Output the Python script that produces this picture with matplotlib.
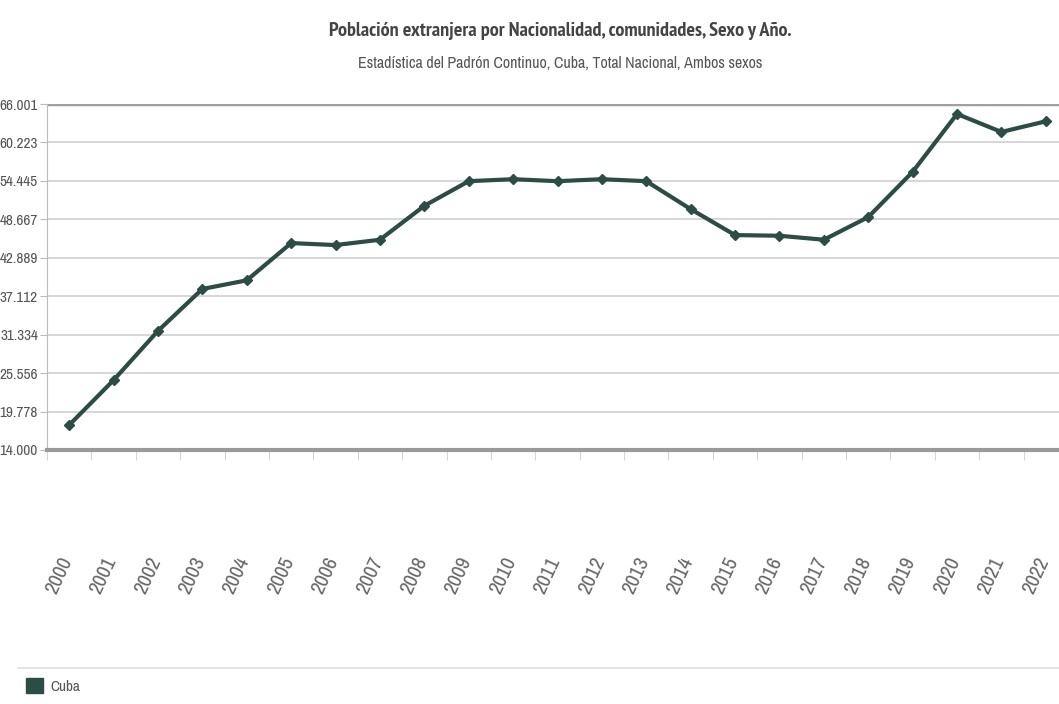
import matplotlib
matplotlib.use("Agg")
import matplotlib.pyplot as plt
import matplotlib.transforms as mtransforms
from matplotlib.patches import Patch

years = [str(y) for y in range(2000, 2023)]
cuba = [17750, 24500, 31900, 38200, 39500, 45100, 44800, 45600, 50700, 54400,
        54700, 54400, 54700, 54400, 50200, 46300, 46200, 45600, 49000, 55800,
        64500, 61800, 63400]
yticks = [14000, 19778, 25556, 31334, 37112, 42889, 48667, 54445, 60223, 66001]
ytick_labels = ["14.000", "19.778", "25.556", "31.334", "37.112", "42.889",
                "48.667", "54.445", "60.223", "66.001"]

plt.rcParams["font.family"] = ["Archivo Narrow", "DejaVu Sans"]

line_col = "#2c4c46"
grey = "#555555"

fig = plt.figure(figsize=(10.59, 7.04), dpi=100)
# plot area runs past the right edge, like the cropped original
ax = fig.add_axes([47 / 1059, 1 - 450 / 704, 1021 / 1059, 346 / 704])

x = list(range(len(years)))
ax.plot(x, cuba, color=line_col, lw=3, marker="D", ms=5, mec=line_col, mfc=line_col, zorder=3)

ax.set_xlim(-0.5, len(years) - 0.5)
ax.set_ylim(14000, 66001)
ax.set_yticks(yticks)
ax.set_yticklabels(ytick_labels, fontsize=11, color=grey)
ax.set_xticks(x)
ax.set_xticklabels(years, rotation=65, ha="center", fontsize=15, color="#666666")
ax.set_xticks([i - 0.5 for i in range(len(years) + 1)], minor=True)
ax.tick_params(axis="x", which="major", length=0, pad=75)
ax.tick_params(axis="x", which="minor", length=7, color="#cccccc", direction="out")
ax.tick_params(axis="y", length=5, color="#bbbbbb", pad=1.5)

# nudge year labels left (after tick_params, which resets transforms)
shift = mtransforms.ScaledTranslation(-10 / 100, 0, fig.dpi_scale_trans)
for lab in ax.get_xticklabels():
    lab.set_transform(lab.get_transform() + shift)

ax.grid(axis="y", color="#d0d0d0", lw=1.2)
ax.axhline(66001, color="#a0a0a0", lw=2.5, zorder=2)
for s in ["top", "right"]:
    ax.spines[s].set_visible(False)
ax.spines["left"].set_color("#bbbbbb")
ax.spines["bottom"].set_color("#9a9a9a")
ax.spines["bottom"].set_linewidth(3)

fig.text(0.529, 1 - 31 / 704, "Población extranjera por Nacionalidad, comunidades, Sexo y Año.",
         ha="center", va="center", fontsize=14.5, fontweight="bold", color="#444444",
         family=["PT Sans Narrow", "DejaVu Sans"])
fig.text(0.529, 1 - 63 / 704, "Estadística del Padrón Continuo, Cuba, Total Nacional, Ambos sexos",
         ha="center", va="center", fontsize=11.5, color="#555555")

fig.add_artist(plt.Line2D([18 / 1059, 1], [1 - 668 / 704] * 2, color="#e4e4e4", lw=1.5))
fig.legend(handles=[Patch(facecolor=line_col, edgecolor=line_col, label="Cuba")],
           loc="center left", bbox_to_anchor=(12 / 1059, 1 - 686 / 704), frameon=False,
           fontsize=11, handlelength=1.1, handleheight=1.1, handletextpad=0.5,
           labelcolor=grey)

fig.savefig("out.png", dpi=100)
